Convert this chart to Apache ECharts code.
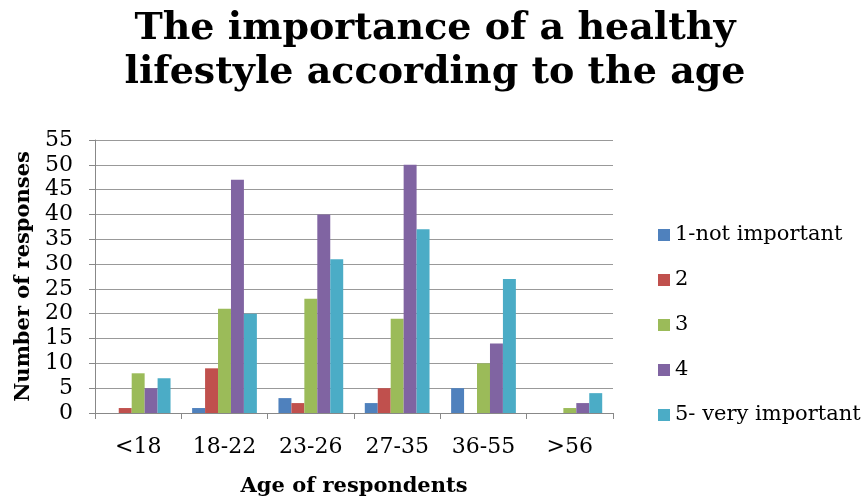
<!DOCTYPE html>
<html><head><meta charset="utf-8">
<script src="https://cdn.jsdelivr.net/npm/echarts@6/dist/echarts.min.js"></script>
<style>html,body{margin:0;padding:0;background:#fff}#c{width:868px;height:502px}</style>
</head><body><div id="c"></div>
<script>
const categories = ['<18','18-22','23-26','27-35','36-55','>56'];
const seriesNames = ['1-not important','2','3','4','5- very important'];
const s1 = [0,1,3,2,5,0];
const s2 = [1,9,2,5,0,0];
const s3 = [8,21,23,19,10,1];
const s4 = [5,47,40,50,14,2];
const s5 = [7,20,31,37,27,4];
const yTicks = [0,5,10,15,20,25,30,35,40,45,50,55];
const colors = ['#4F81BD','#C0504D','#9BBB59','#8064A2','#4BACC6'];
const values = [s1,s2,s3,s4,s5];
const font = '"DejaVu Serif", serif';
const chart = echarts.init(document.getElementById('c'));
chart.setOption({
  animation:false,
  title:{text:'The importance of a healthy\nlifestyle according to the age',left:430,top:2,textAlign:'center',
    textStyle:{fontFamily:font,fontWeight:'bold',fontSize:38,lineHeight:44,color:'#000'}},
  legend:{orient:'vertical',left:653,top:219,itemGap:23,itemWidth:12,itemHeight:12,icon:'rect',
    textStyle:{fontFamily:font,fontSize:21,lineHeight:22,color:'#000'},data:seriesNames},
  grid:{left:95,top:140,width:518,height:276,containLabel:false},
  xAxis:{type:'category',data:categories,
    axisLine:{lineStyle:{color:'#888'}},axisTick:{show:true,length:6,lineStyle:{color:'#888'}},
    axisLabel:{fontFamily:font,fontSize:22,color:'#000',margin:23},
    name:'Age of respondents',nameLocation:'middle',nameGap:63,
    nameTextStyle:{fontFamily:font,fontWeight:'bold',fontSize:21,color:'#000'}},
  yAxis:{type:'value',min:0,max:55,interval:5,
    axisLine:{show:true,lineStyle:{color:'#888'}},axisTick:{show:true,length:6,lineStyle:{color:'#888'}},
    splitLine:{lineStyle:{color:'#999',width:1}},
    axisLabel:{fontFamily:font,fontSize:22,color:'#000',margin:22,
      formatter:v=>yTicks.includes(v)?String(v):''},
    name:'Number of responses',nameLocation:'middle',nameGap:57,nameRotate:90,
    nameTextStyle:{fontFamily:font,fontWeight:'bold',fontSize:21,color:'#000'}},
  series: seriesNames.map((n,i)=>({name:n,type:'bar',data:values[i],barGap:'0%',barCategoryGap:'25%',
    itemStyle:{color:colors[i],borderWidth:0}}))
});
</script></body></html>
